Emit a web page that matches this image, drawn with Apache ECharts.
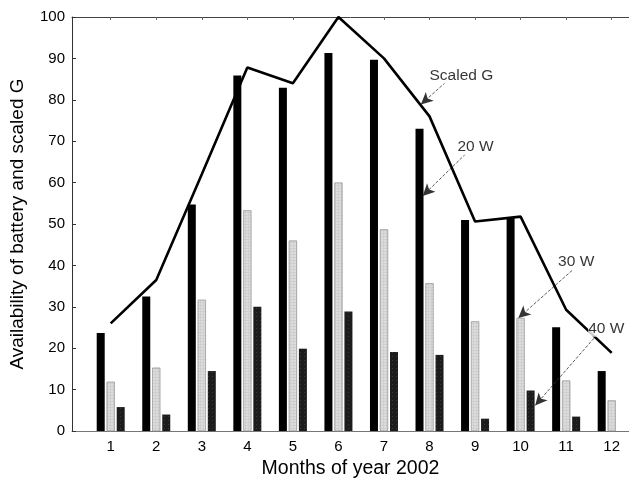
<!DOCTYPE html>
<html>
<head>
<meta charset="utf-8">
<script src="https://cdn.jsdelivr.net/npm/echarts@6/dist/echarts.min.js"></script>
<style>
  html, body { margin: 0; padding: 0; background: #fff; }
  #main { width: 629px; height: 484px; }
</style>
</head>
<body>
<div id="main"></div>
<script>
// months 1..12 of 2002
var months = [1, 2, 3, 4, 5, 6, 7, 8, 9, 10, 11, 12];
var w20 = [23.7, 32.5, 54.7, 85.9, 82.9, 91.3, 89.7, 73.0, 51.0, 51.7, 25.1, 14.5];
var w30 = [11.9, 15.3, 31.7, 53.3, 46.0, 60.0, 48.7, 35.7, 26.5, 27.3, 12.2, 7.4];
var w40 = [5.8, 4.0, 14.5, 30.0, 19.9, 28.9, 19.1, 18.4, 3.0, 9.8, 3.5, 0];
var scaledG = [26.0, 36.5, 62.0, 87.8, 84.0, 100, 90.0, 76.0, 50.6, 51.8, 29.3, 18.9];

// annotation text position, arrow tail, arrow tip (data coords)
var noteText = ['Scaled G', '20 W', '30 W', '40 W'];
var notePos = [[8.70, 85.9], [9.01, 68.6], [11.22, 41.0], [11.88, 24.7]];
var noteTail = [[8.35, 84.2], [8.79, 66.9], [11.13, 38.8], [11.68, 23.3]];
var noteTip = [[7.81, 78.9], [7.85, 56.8], [9.95, 27.3], [10.32, 6.2]];

function pairs(vals) {
    var out = [];
    for (var i = 0; i < months.length; i++) out.push([months[i], vals[i]]);
    return out;
}

var arrows = [];
var labels = [];
for (var i = 0; i < noteText.length; i++) {
    arrows.push([{ coord: noteTail[i] }, { coord: noteTip[i] }]);
    labels.push({ value: notePos[i], name: noteText[i] });
}

var font = 'Liberation Sans, Arial, Helvetica, sans-serif';
var axisCol = '#333';

var option = {
    backgroundColor: '#fff',
    animation: false,
    grid: { left: 70, right: 0, top: 17, bottom: 50 },
    xAxis: [
        {
            type: 'value',
            min: 0.15,
            max: 12.38,
            name: 'Months of year 2002',
            nameLocation: 'middle',
            nameGap: 25,
            nameTextStyle: { fontFamily: font, fontSize: 19.5, color: '#000' },
            axisLine: { show: true, lineStyle: { color: '#777', width: 1 } },
            axisTick: { show: false, customValues: months },
            axisLabel: {
                customValues: months,
                fontFamily: font, fontSize: 15, color: '#000', margin: 8
            },
            splitLine: { show: false }
        },
        {
            type: 'value',
            position: 'top',
            min: 0.15,
            max: 12.38,
            axisLine: { show: true, lineStyle: { color: '#444', width: 1 } },
            axisTick: { show: true, inside: true, length: 3, customValues: months, lineStyle: { color: '#666' } },
            axisLabel: { show: false, customValues: months },
            splitLine: { show: false }
        }
    ],
    yAxis: {
        type: 'value',
        min: 0,
        max: 100,
        interval: 10,
        name: 'Availability of battery and scaled G',
        nameLocation: 'middle',
        nameGap: 45,
        nameTextStyle: { fontFamily: font, fontSize: 19, color: '#000' },
        axisLine: { show: true, lineStyle: { color: axisCol, width: 1 } },
        axisTick: { show: true, inside: true, length: 4, lineStyle: { color: axisCol } },
        axisLabel: { fontFamily: font, fontSize: 15, color: '#000', margin: 7 },
        splitLine: { show: false }
    },
    series: [
        {
            name: '20 W',
            type: 'bar',
            barWidth: 8,
            barGap: '25%',
            itemStyle: { color: '#000' },
            data: pairs(w20)
        },
        {
            name: '30 W',
            type: 'bar',
            barWidth: 8,
            barGap: '25%',
            itemStyle: {
                color: '#cfcfcf',
                borderColor: '#999',
                borderWidth: 0.5,
                decal: {
                    symbol: 'rect',
                    symbolSize: 0.6,
                    color: '#ffffff',
                    dashArrayX: [2, 1],
                    dashArrayY: [2, 1],
                    rotation: 0
                }
            },
            data: pairs(w30)
        },
        {
            name: '40 W',
            type: 'bar',
            barWidth: 8,
            barGap: '25%',
            itemStyle: {
                color: '#1c1c1c',
                decal: {
                    symbol: 'rect',
                    symbolSize: 0.5,
                    color: '#8a8a8a',
                    dashArrayX: [1, 3],
                    dashArrayY: [1, 3],
                    rotation: 0
                }
            },
            data: pairs(w40)
        },
        {
            name: 'Scaled G',
            type: 'line',
            symbol: 'none',
            lineStyle: { color: '#000', width: 2.6 },
            data: pairs(scaledG),
            markLine: {
                silent: true,
                symbol: ['none', 'arrow'],
                symbolSize: [9, 12],
                label: { show: false },
                lineStyle: { color: '#333', type: 'dashed', width: 0.8 },
                data: arrows
            },
            z: 5
        },
        {
            name: 'notes',
            type: 'scatter',
            symbolSize: 0,
            silent: true,
            label: {
                show: true,
                position: 'inside',
                formatter: '{b}',
                fontFamily: font,
                fontSize: 15.5,
                color: '#000',
                backgroundColor: '#fff'
            },
            data: labels,
            z: 6
        }
    ]
};

var myChart = echarts.init(document.getElementById('main'));
myChart.setOption(option);
</script>
</body>
</html>
